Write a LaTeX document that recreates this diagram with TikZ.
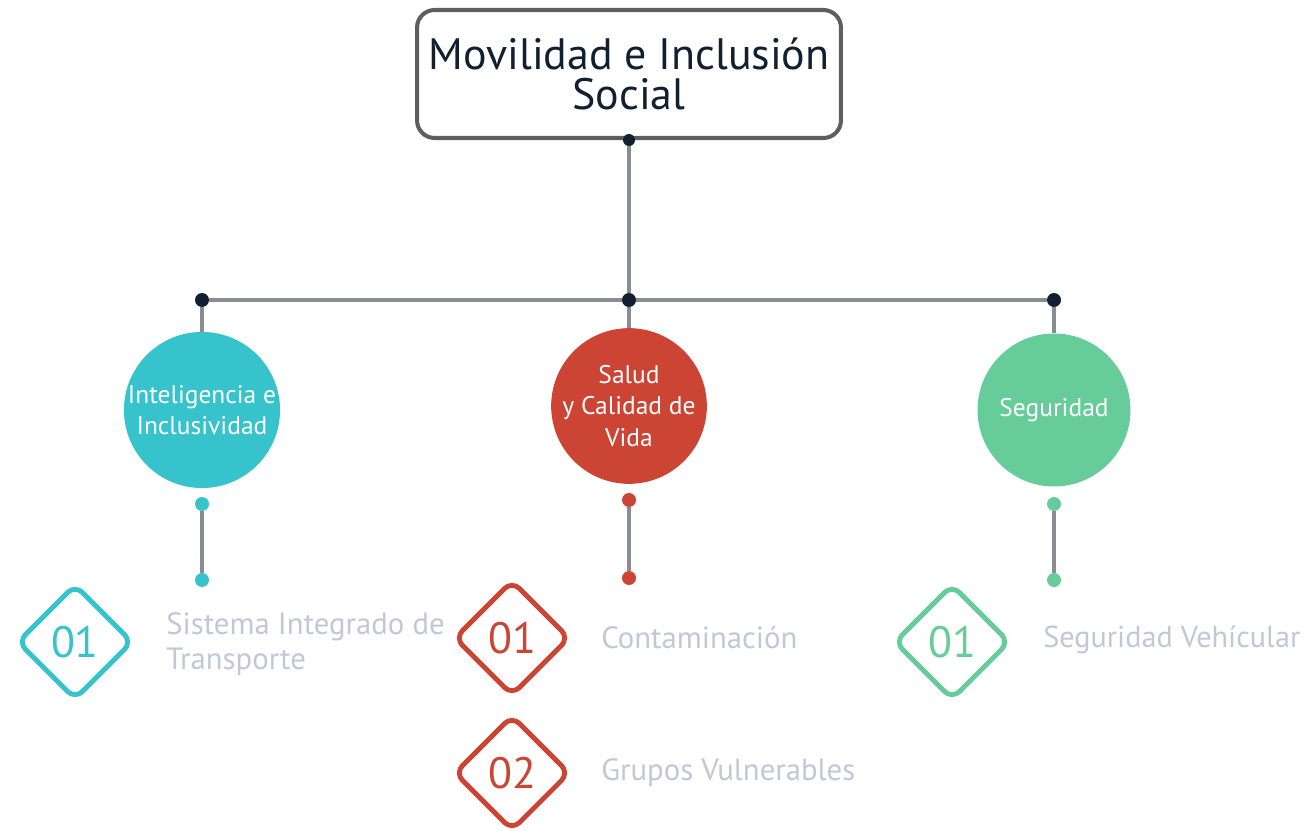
\documentclass[tikz,border=0pt]{standalone}
\usepackage{fontspec}
\setmainfont{PT Sans}
\usetikzlibrary{shapes.geometric}

\definecolor{tealc}{HTML}{36C3CC}
\definecolor{redc}{HTML}{CC4434}
\definecolor{greenc}{HTML}{66CC99}
\definecolor{navy}{HTML}{102030}
\definecolor{linegray}{HTML}{8A8C94}
\definecolor{labelgray}{HTML}{C3C6D6}
\definecolor{boxgray}{HTML}{5E5E5E}

\tikzset{
  title/.style={draw=boxgray, line width=2.3pt, rounded corners=10pt, minimum width=8.48cm, minimum height=2.56cm, align=center, text=navy, font=\fontsize{25}{23}\selectfont},
  topic/.style={circle, minimum size=3.06cm, inner sep=0pt, text=white, align=center, font=\fontsize{14.5}{18}\selectfont},
  jdot/.style={circle, fill=navy, inner sep=0pt, minimum size=0.28cm},
  sdot/.style={circle, inner sep=0pt, minimum size=0.28cm},
  link/.style={draw=linegray, line width=2.2pt},
  item/.style={diamond, draw, line width=2.8pt, rounded corners=6pt, minimum width=2.32cm, minimum height=2.32cm, inner sep=0pt, font=\fontsize{25}{25}\selectfont},
  itemtext/.style={anchor=west, inner sep=0pt, text=labelgray, align=left, font=\fontsize{17.5}{20}\selectfont}
}

\begin{document}
\begin{tikzpicture}[x=0.02cm, y=-0.02cm]

    \useasboundingbox (0,0) rectangle (1309,831);

    \node[title] (title) at (629,74) {Movilidad e Inclusión\\Social};
    \node[jdot, minimum size=0.24cm] (tdot) at (title.south) {};

    \node[jdot] (jInt) at (202,300) {};
    \node[jdot] (jSal) at (629,300) {};
    \node[jdot] (jSeg) at (1054,300) {};

    \node[topic, fill=tealc] (tInt) at (202,410) {Inteligencia e\\Inclusividad};
    \node[topic, fill=redc] (tSal) at (629,406) {Salud\\y Calidad de\\Vida};
    \node[topic, fill=greenc] (tSeg) at (1054,410) {Seguridad};

    \draw[link] (tdot) -- (jSal);
    \draw[link] (jInt) -- (jSal) -- (jSeg);
    \draw[link] (jInt) -- (tInt);
    \draw[link] (jSal) -- (tSal);
    \draw[link] (jSeg) -- (tSeg);

    \begin{scope}[every node/.append style={fill=tealc}]
      \node[sdot] (aInt) at (202,504) {};
      \node[sdot] (bInt) at (202,580) {};
    \end{scope}
    \draw[link] (aInt) -- (bInt);

    \begin{scope}[every node/.append style={fill=redc}]
      \node[sdot] (aSal) at (629,500) {};
      \node[sdot] (bSal) at (629,578) {};
    \end{scope}
    \draw[link] (aSal) -- (bSal);

    \begin{scope}[every node/.append style={fill=greenc}]
      \node[sdot] (aSeg) at (1054,504) {};
      \node[sdot] (bSeg) at (1054,580) {};
    \end{scope}
    \draw[link] (aSeg) -- (bSeg);

    \node[item, draw=tealc, text=tealc] (iInt1) at (75,642) {01};
    \node[itemtext] (lInt1) at (166,644) {Sistema Integrado de\\Transporte};

    \node[item, draw=redc, text=redc] (iSal1) at (512,638) {01};
    \node[itemtext] (lSal1) at (601,638) {Contaminación};

    \node[item, draw=redc, text=redc] (iSal2) at (512,773) {02};
    \node[itemtext] (lSal2) at (601,773) {Grupos Vulnerables};

    \node[item, draw=greenc, text=greenc] (iSeg1) at (952,642) {01};
    \node[itemtext, font=\fontsize{17.2}{20}\selectfont] (lSeg1) at (1043,640) {Seguridad Vehícular};

  \end{tikzpicture}
\end{document}
